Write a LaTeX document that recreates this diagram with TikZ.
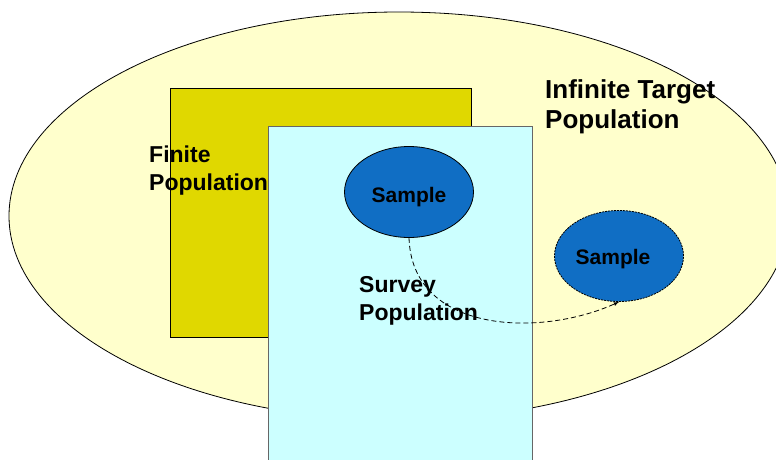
\documentclass[tikz,border=0pt]{standalone}
\usepackage{fontspec}
\setmainfont{Liberation Sans}
\usetikzlibrary{shapes.geometric}
\definecolor{targetyellow}{HTML}{FFFFCC}
\definecolor{finiteyellow}{HTML}{E0D800}
\definecolor{surveycyan}{HTML}{CCFFFF}
\definecolor{sampleblue}{HTML}{106EC4}
\begin{document}
\begin{tikzpicture}[x=1pt,y=-1pt,
		sample/.style={ellipse,draw,line width=0.8pt,fill=sampleblue,minimum width=129pt,minimum height=91pt,inner sep=0pt},
		samplename/.style={font=\bfseries\fontsize{21}{25}\selectfont},
		popname/.style={anchor=north west,align=left,inner sep=0pt,font=\bfseries\fontsize{23}{28.5}\selectfont}]

		\useasboundingbox (0,0) rectangle (776,459);
		\clip (0,0) rectangle (776,459);
		\draw[fill=targetyellow,line width=0.8pt] (399,216) ellipse [x radius=390,y radius=204];
		\draw[fill=finiteyellow,line width=0.8pt] (170,88) rectangle (471,337);
		\draw[fill=surveycyan,draw=black!60,line width=1pt] (268,126) rectangle (532,470);

		\node[popname] (finite) at (149,145.5) {Finite\\Population};
		\node[popname] (survey) at (359,276) {Survey\\Population};
		\node[popname,font=\bfseries\fontsize{26}{30}\selectfont] (target) at (545,79) {Infinite Target\\Population};

		\node[sample] (s1) at (409,192) {};
		\node[samplename] (s1name) at ([yshift=-5pt]s1.center) {Sample};
		\node[sample,dash pattern=on 2pt off 1pt] (s2) at (619,256) {};
		\node[samplename] (s2name) at ([xshift=-6pt,yshift=-3pt]s2.center) {Sample};

		\draw[line width=0.8pt,dash pattern=on 5pt off 3pt,-latex] (s1.south) .. controls +(3,95) and +(-80,36) .. (s2.south);

	\end{tikzpicture}
\end{document}
